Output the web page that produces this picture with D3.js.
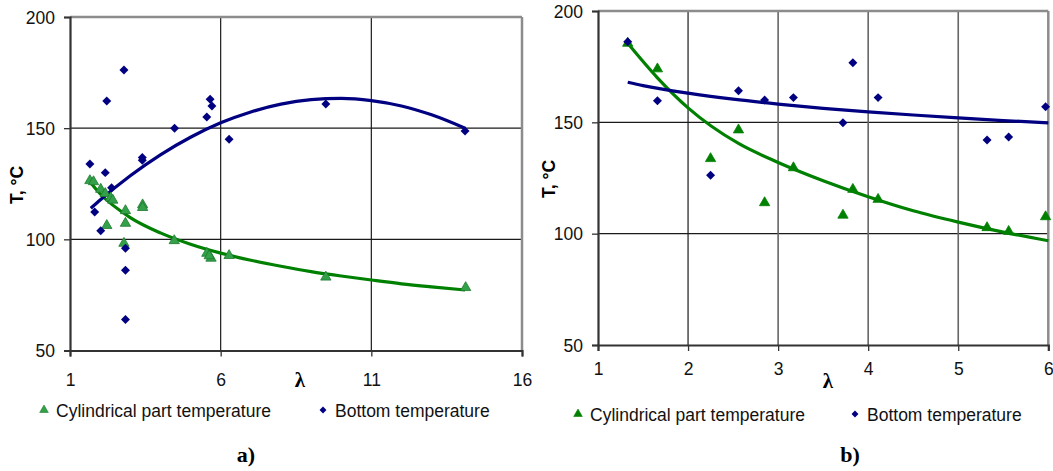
<!DOCTYPE html>
<html><head><meta charset="utf-8">
<script src="https://cdn.jsdelivr.net/npm/d3@7"></script>
<style>
html,body{margin:0;padding:0;background:#fff;}
svg{display:block;}
</style></head>
<body>
<svg id="chart" width="1053" height="471"></svg>
<script>
// ---------- Chart a) data ----------
const aXTicks = [1, 6, 11, 16];
const aYTicks = [50, 100, 150, 200];
const aCylX = [1.66, 1.78, 2.02, 2.17, 2.35, 2.42, 2.22, 2.84, 2.84, 2.79, 3.41, 3.41, 4.46, 5.54, 5.68, 5.62, 6.28, 9.49, 14.13];
const aCylT = [126.4, 125.9, 122.5, 120.6, 118.6, 117.6, 106.2, 112.9, 107.2, 98.2, 115.5, 114.3, 99.4, 93.7, 91.5, 92.6, 92.7, 83.0, 78.3];
const aBotX = [1.66, 2.17, 2.38, 1.82, 2.02, 2.22, 2.79, 2.84, 2.84, 2.84, 3.40, 3.40, 4.47, 5.54, 5.65, 5.71, 6.28, 9.49, 14.11];
const aBotT = [133.9, 130.0, 123.2, 112.3, 103.9, 162.2, 176.2, 96.0, 86.1, 63.9, 136.8, 135.6, 150.0, 155.0, 163.0, 160.0, 145.0, 160.9, 148.7];
const aCylTrendX = [1.61, 2, 3, 4, 5, 6, 7, 8, 9, 10, 11, 12, 13, 14.11];
const aCylTrendT = [126.7, 120.5, 109.8, 102.9, 97.8, 93.8, 90.6, 87.9, 85.5, 83.5, 81.7, 80.0, 78.6, 77.2];
const aBotTrendX = [1.69, 2, 3, 4, 5, 6, 7, 8, 9, 10, 11, 12, 13, 14.11];
const aBotTrendT = [114.0, 117.7, 128.6, 138.0, 145.9, 152.4, 157.3, 160.8, 162.8, 163.4, 162.4, 160.0, 156.0, 150.0];

// ---------- Chart b) data ----------
const bXTicks = [1, 2, 3, 4, 5, 6];
const bYTicks = [50, 100, 150, 200];
const bCylX = [1.33, 1.66, 2.25, 2.56, 2.85, 3.17, 3.72, 3.83, 4.11, 5.32, 5.56, 5.97];
const bCylT = [185.5, 174.0, 133.7, 146.6, 113.9, 129.6, 108.3, 119.9, 115.4, 102.7, 101.0, 107.6];
const bBotX = [1.33, 1.66, 2.25, 2.56, 2.85, 3.17, 3.72, 3.83, 4.11, 5.32, 5.56, 5.97];
const bBotT = [186.2, 159.7, 126.2, 164.2, 160.0, 161.1, 149.8, 176.8, 161.1, 142.1, 143.4, 157.0];
const bCylTrendX = [1.33, 1.66, 2, 2.56, 3, 3.5, 4, 4.5, 5, 5.5, 6];
const bCylTrendT = [185.5, 170.0, 156.5, 140.5, 132.0, 123.8, 116.6, 110.3, 105.2, 100.7, 96.8];
const bBotTrendX = [1.33, 1.5, 2, 2.5, 3, 3.5, 4, 4.5, 5, 5.5, 6];
const bBotTrendT = [168.0, 166.5, 163.1, 160.4, 158.2, 156.3, 154.7, 153.3, 152.0, 150.8, 149.8];

const legendLabels = ["Cylindrical part temperature", "Bottom temperature"];
const xTitle = "λ";
const yTitle = "T, °C";
const panelLabels = ["a)", "b)"];

const NAVY = "#000080", GREEN = "#008000";
const SANS = "'Liberation Sans', Arial, sans-serif";
const SERIF = "'Liberation Serif', 'Times New Roman', serif";
const svg = d3.select("#chart");

const zip = (xs, ys) => xs.map((x, i) => ({x, y: ys[i]}));

function drawPanel(cfg) {
  const x = d3.scaleLinear().domain(cfg.xDomain).range([cfg.left, cfg.right]);
  const y = d3.scaleLinear().domain([50, 200]).range([cfg.bottom, cfg.top]);
  const g = svg.append("g");

  // gridlines
  g.selectAll(".hg").data(cfg.yTicks.filter(v => v > 50 && v < 200)).join("line")
    .attr("x1", cfg.left).attr("x2", cfg.right)
    .attr("y1", d => y(d)).attr("y2", d => y(d))
    .attr("stroke", "#1a1a1a").attr("stroke-width", 1.2);
  g.selectAll(".vg").data(cfg.xTicks.filter(v => v > cfg.xDomain[0] && v < cfg.xDomain[1])).join("line")
    .attr("x1", d => x(d)).attr("x2", d => x(d))
    .attr("y1", cfg.top).attr("y2", cfg.bottom)
    .attr("stroke", d => cfg.vGridColor(d)).attr("stroke-width", d => cfg.vGridWidth(d));

  // frame: top & right gray
  g.append("line").attr("x1", cfg.left).attr("x2", cfg.right).attr("y1", cfg.top).attr("y2", cfg.top)
    .attr("stroke", "#8c8c8c").attr("stroke-width", 2.5);
  g.append("line").attr("x1", cfg.right).attr("x2", cfg.right).attr("y1", cfg.top).attr("y2", cfg.bottom)
    .attr("stroke", "#8c8c8c").attr("stroke-width", 2.5);

  // axes
  const yAxis = d3.axisLeft(y).tickValues(cfg.yTicks).tickSize(6).tickPadding(9).tickFormat(d3.format("d"));
  const xAxis = d3.axisBottom(x).tickValues(cfg.xTicks).tickSize(6).tickPadding(cfg.xPad).tickFormat(d3.format("d"));
  const ya = g.append("g").attr("transform", `translate(${cfg.left},0)`).call(yAxis);
  const xa = g.append("g").attr("transform", `translate(0,${cfg.bottom})`).call(xAxis);
  [ya, xa].forEach(a => {
    a.attr("font-family", null).attr("font-size", null);
    a.select(".domain").attr("stroke", "#333").attr("stroke-width", 2.2);
    a.selectAll(".tick line").attr("stroke", "#333").attr("stroke-width", 1.3);
    a.selectAll(".tick text").style("font-size", "17.5px").style("font-family", SANS).attr("fill", "#111");
  });
  ya.selectAll(".tick text").attr("dy", "0.36em");

  // trend lines
  const line = d3.line().x(d => x(d.x)).y(d => y(d.y)).curve(d3.curveMonotoneX);
  g.append("path").datum(zip(cfg.cylTrendX, cfg.cylTrendT)).attr("d", line)
    .attr("fill", "none").attr("stroke", GREEN).attr("stroke-width", 3.2);
  g.append("path").datum(zip(cfg.botTrendX, cfg.botTrendT)).attr("d", line)
    .attr("fill", "none").attr("stroke", NAVY).attr("stroke-width", 3.2);

  // markers
  const tri = d3.symbol().type(d3.symbolTriangle).size(46);
  g.selectAll(".tri").data(zip(cfg.cylX, cfg.cylT)).join("path")
    .attr("d", tri).attr("transform", d => `translate(${x(d.x)},${y(d.y)})`)
    .attr("fill", cfg.triFill).attr("stroke", cfg.triStroke).attr("stroke-width", 0.8);
  const dia = d3.symbol().type(d3.symbolSquare).size(40);
  g.selectAll(".dia").data(zip(cfg.botX, cfg.botT)).join("path")
    .attr("d", dia).attr("transform", d => `translate(${x(d.x)},${y(d.y)}) rotate(45)`)
    .attr("fill", NAVY);

  // titles
  g.append("text").attr("x", cfg.lambdaX).attr("y", cfg.lambdaY).attr("text-anchor", "middle")
    .style("font-family", SERIF).style("font-weight", "bold").style("font-size", "21px").text(xTitle);
  g.append("text").attr("transform", `translate(${cfg.yTitleX},${cfg.yTitleY}) rotate(-90)`)
    .attr("text-anchor", "middle").style("font-family", SANS).style("font-weight", "bold")
    .style("font-size", "17.5px").text(yTitle);

  // legend
  const ly = cfg.legendY;
  g.append("path").attr("d", d3.symbol().type(d3.symbolTriangle).size(32)())
    .attr("transform", `translate(${cfg.leg1X},${ly})`).attr("fill", cfg.triFill).attr("stroke", cfg.triStroke).attr("stroke-width", 0.6);
  g.append("text").attr("x", cfg.leg1X + 12).attr("y", ly + 6.5).style("font-family", SANS)
    .style("font-size", "17.5px").attr("fill", "#111").text(legendLabels[0]);
  g.append("path").attr("d", d3.symbol().type(d3.symbolSquare).size(24)())
    .attr("transform", `translate(${cfg.leg2X},${ly}) rotate(45)`).attr("fill", NAVY);
  g.append("text").attr("x", cfg.leg2X + 12).attr("y", ly + 6.5).style("font-family", SANS)
    .style("font-size", "17.5px").attr("fill", "#111").text(legendLabels[1]);

  // panel label
  g.append("text").attr("x", cfg.panelX).attr("y", 462).attr("text-anchor", "middle")
    .style("font-family", SERIF).style("font-weight", "bold").style("font-size", "22px").text(cfg.panel);
}

drawPanel({
  left: 70, right: 522, top: 17, bottom: 350.5, xDomain: [1, 16],
  xTicks: aXTicks, yTicks: aYTicks, xPad: 17,
  vGridColor: () => "#1a1a1a", vGridWidth: () => 1.2,
  cylX: aCylX, cylT: aCylT, botX: aBotX, botT: aBotT,
  cylTrendX: aCylTrendX, cylTrendT: aCylTrendT, botTrendX: aBotTrendX, botTrendT: aBotTrendT,
  triFill: "#33a04a", triStroke: "#1f7a2e",
  lambdaX: 300, lambdaY: 387, yTitleX: 23, yTitleY: 185,
  legendY: 410, leg1X: 44, leg2X: 323, panelX: 246, panel: panelLabels[0]
});

drawPanel({
  left: 598, right: 1048.3, top: 11, bottom: 345, xDomain: [1, 6],
  xTicks: bXTicks, yTicks: bYTicks, xPad: 12,
  vGridColor: d => d === 2 ? "#1a1a1a" : "#666", vGridWidth: d => d === 2 ? 1.2 : 1.6,
  cylX: bCylX, cylT: bCylT, botX: bBotX, botT: bBotT,
  cylTrendX: bCylTrendX, cylTrendT: bCylTrendT, botTrendX: bBotTrendX, botTrendT: bBotTrendT,
  triFill: GREEN, triStroke: GREEN,
  lambdaX: 828, lambdaY: 388, yTitleX: 555, yTitleY: 179,
  legendY: 414, leg1X: 578, leg2X: 855, panelX: 850, panel: panelLabels[1]
});
</script>
</body></html>
